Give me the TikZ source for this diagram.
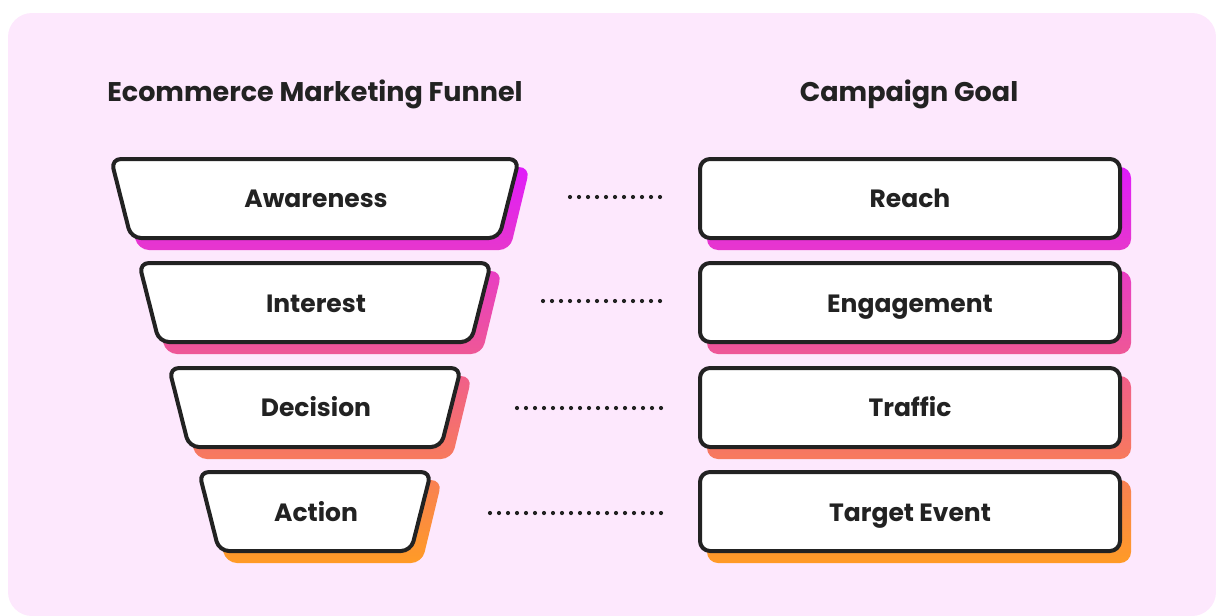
\documentclass[tikz,border=0pt]{standalone}
\usepackage{fontspec}
\setmainfont{Poppins}
\definecolor{bgpink}{RGB}{253,232,253}
\definecolor{ink}{RGB}{34,34,34}
\definecolor{gA}{RGB}{224,28,250}
\definecolor{gB}{RGB}{255,155,38}
\begin{document}
\begin{tikzpicture}[x=1pt,y=-1pt,
  box/.style={draw=ink, fill=white, line width=4pt, rounded corners=10pt, line join=round},
  shadowbox/.style={rounded corners=11pt},
  lbl/.style={font=\fontsize{25}{27}\selectfont\bfseries, text=ink, inner sep=0pt, anchor=base},
  title/.style={font=\fontsize{27}{29}\selectfont\bfseries, text=ink, inner sep=0pt, anchor=base},
  dotline/.style={draw=ink, line width=4.2pt, line cap=round, dash pattern=on 0pt off 9pt}]
\useasboundingbox (0,0) rectangle (1216,616);
\fill[bgpink, rounded corners=24pt] (8,13) rectangle (1216,616);

% titles
\node[title] (t1) at (315,101) {Ecommerce Marketing Funnel};
\node[title] (t2) at (909,101) {Campaign Goal};

% shadows (funnel)
\shade[shadowbox, top color=gB!0!gA, bottom color=gB!21!gA] (118,167) -- (530,167) -- (510,250) -- (138,250) -- cycle;
\shade[shadowbox, top color=gB!26!gA, bottom color=gB!47!gA] (146,271) -- (502,271) -- (482,354) -- (166,354) -- cycle;
\shade[shadowbox, top color=gB!53!gA, bottom color=gB!74!gA] (176,376) -- (472,376) -- (452,459) -- (196,459) -- cycle;
\shade[shadowbox, top color=gB!79!gA, bottom color=gB!100!gA] (206,480) -- (442,480) -- (422,563) -- (226,563) -- cycle;
% shadows (goals)
\shade[shadowbox, top color=gB!0!gA, bottom color=gB!21!gA] (707,167) rectangle (1131,250);
\shade[shadowbox, top color=gB!26!gA, bottom color=gB!47!gA] (707,271) rectangle (1131,354);
\shade[shadowbox, top color=gB!53!gA, bottom color=gB!74!gA] (707,376) rectangle (1131,459);
\shade[shadowbox, top color=gB!79!gA, bottom color=gB!100!gA] (707,480) rectangle (1131,563);

% funnel boxes
\draw[box] (111,159) -- (519,159) -- (499,238) -- (131,238) -- cycle;
\draw[box] (139,263) -- (491,263) -- (471,342) -- (159,342) -- cycle;
\draw[box] (169,368) -- (461,368) -- (441,447) -- (189,447) -- cycle;
\draw[box] (199,472) -- (431,472) -- (411,551) -- (219,551) -- cycle;
% goal boxes
\draw[box] (700,159) rectangle (1120,238);
\draw[box] (700,263) rectangle (1120,342);
\draw[box] (700,368) rectangle (1120,447);
\draw[box] (700,472) rectangle (1120,551);

% labels
\node[lbl] (f1) at (316,207) {Awareness};
\node[lbl] (f2) at (316,312) {Interest};
\node[lbl] (f3) at (316,416) {Decision};
\node[lbl] (f4) at (316,521) {Action};
\node[lbl] (g1) at (910,207) {Reach};
\node[lbl] (g2) at (910,312) {Engagement};
\node[lbl] (g3) at (910,416) {Traffic};
\node[lbl] (g4) at (910,521) {Target Event};

% dotted connectors
\coordinate (d1s) at (570,197); \coordinate (d1e) at (661,197);
\coordinate (d2s) at (543,301); \coordinate (d2e) at (661,301);
\coordinate (d3s) at (517,408); \coordinate (d3e) at (661,408);
\coordinate (d4s) at (490,513); \coordinate (d4e) at (661,513);
\draw[dotline] (d1s) -- (d1e);
\draw[dotline] (d2s) -- (d2e);
\draw[dotline] (d3s) -- (d3e);
\draw[dotline] (d4s) -- (d4e);
\end{tikzpicture}
\end{document}
